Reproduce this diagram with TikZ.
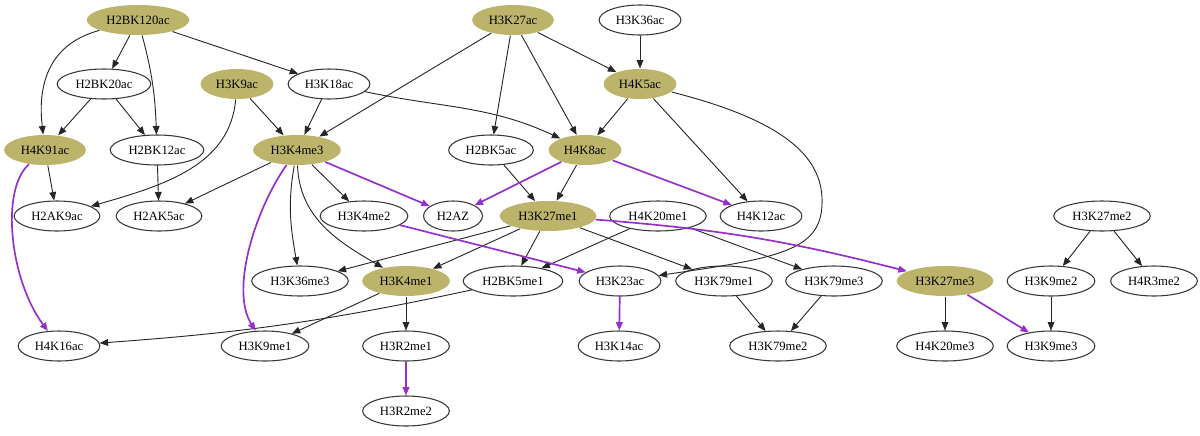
\documentclass[tikz,border=0pt]{standalone}
\usepackage{fontspec}
\setmainfont{Liberation Serif}
\usetikzlibrary{shapes.geometric, arrows.meta}
\definecolor{histKhaki}{RGB}{189,180,108}
\definecolor{histViolet}{RGB}{150,48,205}
\definecolor{histInk}{RGB}{55,55,55}

\begin{document}
\begin{tikzpicture}[x=0.025cm, y=-0.025cm,
      site/.style={ellipse, draw=histInk, line width=0.75pt, fill=white, minimum height=0.75cm, inner xsep=3.3pt, font=\fontsize{9}{10}\selectfont},
      hub/.style={site, draw=none, fill=histKhaki},
      conn/.style={-{Triangle[length=6pt,width=4.8pt]}, line width=0.65pt, draw=black!85},
      pconn/.style={conn, draw=histViolet, line width=1.2pt}
    ]
    \useasboundingbox (0,0) rectangle (1200,435);

    % row 1
    \node[hub]  (H2BK120ac) at (138,20) {H2BK120ac};
    \node[hub]  (H3K27ac)   at (513,20) {H3K27ac};
    \node[site] (H3K36ac)   at (640,20) {H3K36ac};
    % row 2
    \node[site] (H2BK20ac)  at (104,84) {H2BK20ac};
    \node[hub]  (H3K9ac)    at (237,84) {H3K9ac};
    \node[site] (H3K18ac)   at (329,84) {H3K18ac};
    \node[hub]  (H4K5ac)    at (640,84) {H4K5ac};
    % row 3
    \node[hub]  (H4K91ac)   at (45,150) {H4K91ac};
    \node[site] (H2BK12ac)  at (157,150) {H2BK12ac};
    \node[hub]  (H3K4me3)   at (297,150) {H3K4me3};
    \node[site] (H2BK5ac)   at (491,150) {H2BK5ac};
    \node[hub]  (H4K8ac)    at (585,150) {H4K8ac};
    % row 4
    \node[site] (H2AK9ac)   at (57,216) {H2AK9ac};
    \node[site] (H2AK5ac)   at (159,216) {H2AK5ac};
    \node[site] (H3K4me2)   at (364,216) {H3K4me2};
    \node[site] (H2AZ)      at (453,216) {H2AZ};
    \node[hub]  (H3K27me1)  at (548,216) {H3K27me1};
    \node[site] (H4K20me1)  at (658,216) {H4K20me1};
    \node[site] (H4K12ac)   at (761,216) {H4K12ac};
    \node[site] (H3K27me2)  at (1102,216) {H3K27me2};
    % row 5
    \node[site] (H3K36me3)  at (300,281) {H3K36me3};
    \node[hub]  (H3K4me1)   at (406,281) {H3K4me1};
    \node[site] (H2BK5me1)  at (513,281) {H2BK5me1};
    \node[site] (H3K23ac)   at (620,281) {H3K23ac};
    \node[site] (H3K79me1)  at (724,281) {H3K79me1};
    \node[site] (H3K79me3)  at (834,281) {H3K79me3};
    \node[hub]  (H3K27me3)  at (945,281) {H3K27me3};
    \node[site] (H3K9me2)   at (1051,281) {H3K9me2};
    \node[site] (H4R3me2)   at (1154,281) {H4R3me2};
    % row 6
    \node[site] (H4K16ac)   at (59,346) {H4K16ac};
    \node[site] (H3K9me1)   at (265,346) {H3K9me1};
    \node[site] (H3R2me1)   at (406,346) {H3R2me1};
    \node[site] (H3K14ac)   at (619,346) {H3K14ac};
    \node[site] (H3K79me2)  at (778,346) {H3K79me2};
    \node[site] (H4K20me3)  at (945,346) {H4K20me3};
    \node[site] (H3K9me3)   at (1051,346) {H3K9me3};
    % row 7
    \node[site] (H3R2me2)   at (406,411) {H3R2me2};

    % straight links
    \foreach \a/\b in {H2BK120ac/H2BK20ac, H2BK120ac/H3K18ac, H2BK20ac/H4K91ac, H2BK20ac/H2BK12ac,
        H3K9ac/H3K4me3, H3K18ac/H3K4me3, H3K27ac/H3K4me3, H3K27ac/H2BK5ac, H3K27ac/H4K8ac,
        H3K27ac/H4K5ac, H3K36ac/H4K5ac, H4K5ac/H4K8ac, H4K5ac/H4K12ac, H4K91ac/H2AK9ac,
        H2BK12ac/H2AK5ac, H3K4me3/H2AK5ac, H3K4me3/H3K4me2, H2BK5ac/H3K27me1, H4K8ac/H3K27me1,
        H3K27me1/H3K36me3, H3K27me1/H3K4me1, H3K27me1/H2BK5me1, H3K27me1/H3K79me1,
        H4K20me1/H2BK5me1, H4K20me1/H3K79me3, H3K4me1/H3K9me1, H3K4me1/H3R2me1,
        H3K79me1/H3K79me2, H3K79me3/H3K79me2, H3K27me3/H4K20me3, H3K27me2/H3K9me2,
        H3K27me2/H4R3me2, H3K9me2/H3K9me3}
      \draw[conn] (\a) -- (\b);
    \foreach \a/\b in {H3K4me3/H2AZ, H4K8ac/H2AZ, H4K8ac/H4K12ac, H3K4me2/H3K23ac,
        H3K23ac/H3K14ac, H3R2me1/H3R2me2, H3K27me3/H3K9me3}
      \draw[pconn] (\a) -- (\b);

    % curved links
    \draw[conn] (H2BK120ac) .. controls (45,45) and (38,90) .. (H4K91ac);
    \draw[conn] (H2BK120ac) to[out=-75,in=92] (H2BK12ac);
    \draw[conn] (H3K9ac) .. controls (230,165) and (165,185) .. (H2AK9ac);
    \draw[conn] (H3K18ac) to[out=-12,in=155] (H4K8ac);
    \draw[conn] (H4K5ac) .. controls (790,122) and (824,160) .. (822,205)
      .. controls (820,250) and (780,258) .. (H3K23ac);
    \draw[conn] (H3K4me3) to[out=-100,in=100] (H3K36me3);
    \draw[conn] (H3K4me3) to[out=-88,in=150] (H3K4me1);
    \draw[conn] (H2BK5me1) to[bend left=4] (H4K16ac);
    \draw[pconn] (H4K91ac) .. controls (0,190) and (10,280) .. (H4K16ac);
    \draw[pconn] (H3K4me3) .. controls (255,210) and (230,290) .. (H3K9me1);
    \draw[pconn] (H3K27me1) to[bend left=5] (H3K27me3);
  \end{tikzpicture}
\end{document}
